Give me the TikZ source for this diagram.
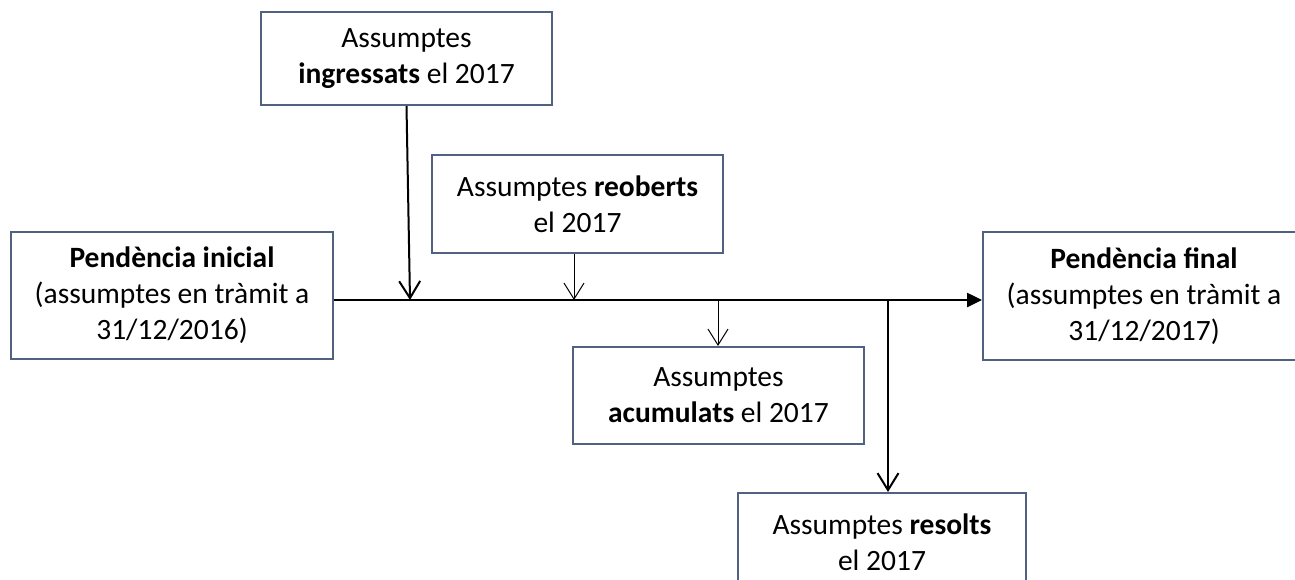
\documentclass[tikz,border=0pt]{standalone}
\usepackage{fontspec}
\setmainfont{Carlito}
\usetikzlibrary{arrows.meta}
\definecolor{boxline}{RGB}{80,98,128}
\tikzset{
  box/.style={draw=boxline, line width=2pt, align=center, inner sep=0pt,
    font=\fontsize{29.5}{36}\selectfont},
  thickarrow/.style={line width=2pt, -{Straight Barb[length=17pt,width=21pt,line width=2pt]}},
  thinarrow/.style={line width=1pt, -{Straight Barb[length=16pt,width=20pt,line width=1pt]}},
  mainline/.style={line width=2.5pt, -{Triangle[length=15pt,width=14pt]}}
}
\begin{document}
\begin{tikzpicture}[x=1pt,y=-1pt]
\useasboundingbox (0,0) rectangle (1295,579);
\node[box, minimum width=291pt, minimum height=93pt] (ingr) at (406.5,58.5) {Assumptes\\\textbf{ingressats} el 2017};
\node[box, minimum width=291pt, minimum height=98pt] (reob) at (577.5,204) {Assumptes \textbf{reoberts}\\el 2017};
\node[box, minimum width=291pt, minimum height=97pt] (acum) at (718.5,395.5) {Assumptes\\\textbf{acumulats} el 2017};
\node[box, minimum width=288pt, minimum height=98pt, anchor=north] (reso) at (882,492) {Assumptes \textbf{resolts}\\el 2017};
\node[box, minimum width=322pt, minimum height=127pt] (ini) at (172,295.5) {\textbf{Pendència inicial}\\(assumptes en tràmit a\\31/12/2016)};
\node[box, minimum width=322pt, minimum height=128pt, anchor=west] (fin) at (982,296) {\textbf{Pendència final}\\(assumptes en tràmit a\\31/12/2017)};
\coordinate (ml) at (0,300);
\coordinate (pI) at (410,300);
\coordinate (pR) at (574,300);
\coordinate (pA) at (718,300);
\coordinate (pS) at (888,300);
\draw[mainline] (ini.east |- ml) -- (fin.west |- ml);
\draw[thickarrow] (ingr.south) -- (pI);
\draw[thinarrow] (reob.south -| pR) -- (pR);
\draw[thinarrow] (pA) -- (acum.north -| pA);
\draw[thickarrow] (pS) -- (reso.north -| pS);
\end{tikzpicture}
\end{document}
